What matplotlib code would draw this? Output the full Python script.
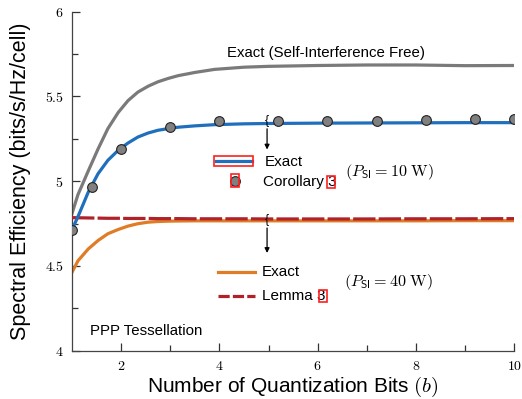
import matplotlib
matplotlib.use("Agg")
import matplotlib.pyplot as plt
from matplotlib.patches import Rectangle

plt.rcParams['font.family'] = ['Liberation Sans', 'DejaVu Sans']
plt.rcParams['mathtext.fontset'] = 'cm'

# curves
b_grid = [1, 1.12, 1.33, 1.53, 1.73, 1.94, 2.14, 2.34, 2.55, 2.75, 2.96,
          3.16, 3.5, 3.9, 4.5, 5, 6, 7, 8, 9, 10]
se_free = [4.81, 4.92, 5.06, 5.19, 5.31, 5.405, 5.475, 5.525, 5.56, 5.586, 5.606,
           5.622, 5.641, 5.659, 5.672, 5.677, 5.682, 5.685, 5.685, 5.681, 5.682]
se_10w = [4.715, 4.79, 4.935, 5.044, 5.123, 5.182, 5.225, 5.26, 5.284, 5.30, 5.31,
          5.318, 5.326, 5.333, 5.338, 5.34, 5.342, 5.343, 5.344, 5.345, 5.345]
se_40w = [4.463, 4.53, 4.60, 4.65, 4.69, 4.715, 4.735, 4.749, 4.758, 4.762, 4.764,
          4.765, 4.766, 4.766, 4.766, 4.766, 4.766, 4.766, 4.766, 4.767, 4.767]
se_lemma = [4.785, 4.784, 4.783, 4.782, 4.781, 4.781, 4.780, 4.780, 4.780, 4.779, 4.779,
            4.779, 4.778, 4.778, 4.778, 4.777, 4.777, 4.777, 4.778, 4.778, 4.779]

# Corollary 3 markers
mk_b = [1, 1.4, 2, 3, 4, 5.2, 6.2, 7.2, 8.2, 9.2, 10]
mk_se = [4.713, 4.965, 5.192, 5.318, 5.353, 5.356, 5.356, 5.357, 5.36, 5.365, 5.367]

xticks = [2, 4, 6, 8, 10]
yticks = [4, 4.5, 5, 5.5, 6]

c_gray = '#7a7a7a'
c_blue = '#1f6fbd'
c_orange = '#e07c25'
c_red = '#b0222a'

fig = plt.figure(figsize=(5.22, 3.99), dpi=100)
ax = fig.add_axes([0.138, 0.121, 0.847, 0.850])

ax.plot(b_grid, se_free, color=c_gray, lw=2.3, zorder=2, solid_joinstyle='round')
ax.plot(b_grid, se_40w, color=c_orange, lw=2.3, zorder=2, solid_joinstyle='round')
ax.plot(b_grid, se_lemma, color=c_red, lw=2.3, dashes=(7, 1), zorder=3)
ax.plot(b_grid, se_10w, color=c_blue, lw=2.3, zorder=3, solid_joinstyle='round')
ax.plot(mk_b, mk_se, 'o', color='#808080', mec='#222222', mew=0.8, ms=7, zorder=4)

ax.set_xlim(1, 10)
ax.set_ylim(4, 6)
ax.set_xticks(xticks)
ax.set_xticklabels(['$%g$' % t for t in xticks])
ax.set_xticks([3, 5, 7, 9], minor=True)
ax.set_yticks(yticks)
ax.set_yticklabels(['$%g$' % t for t in yticks])
ax.set_yticks([4.25, 4.75, 5.25, 5.75], minor=True)
ax.tick_params(which='both', direction='in', color='#333333', labelsize=10, width=0.9)
ax.tick_params(which='major', length=6)
ax.tick_params(which='minor', length=4)
ax.tick_params(axis='y', pad=6)
ax.tick_params(axis='x', pad=6)
for s in ['top', 'right']:
    ax.spines[s].set_visible(False)
for s in ['left', 'bottom']:
    ax.spines[s].set_color('#444444')
    ax.spines[s].set_linewidth(0.9)

ax.set_xlabel('Number of Quantization Bits $(b)$', fontsize=15, labelpad=1)
ax.set_ylabel('Spectral Efficiency (bits/s/Hz/cell)', fontsize=15.5, labelpad=10)

ax.text(6.16, 5.755, 'Exact (Self-Interference Free)', fontsize=10.8, ha='center', va='center')
ax.text(1.37, 4.118, 'PPP Tessellation', fontsize=10.8, ha='left', va='center')

# braces with arrows pointing to the legends
for ytop, ybot in [(5.355, 5.17), (4.77, 4.56)]:
    ax.text(4.96, ytop, '{', fontsize=9, ha='center', va='center')
    ax.annotate('', xy=(4.97, ybot), xytext=(4.97, ytop - 0.03),
                arrowprops=dict(arrowstyle='-|>', color='black', lw=0.9, mutation_scale=7))

# legend 1 (10 W)
ax.plot([3.93, 4.67], [5.117, 5.117], color=c_blue, lw=2.3)
ax.plot([4.31], [4.999], 'o', color='#808080', mec='#222222', mew=0.8, ms=7)
ax.text(4.93, 5.111, 'Exact', fontsize=11, va='center')
ax.text(4.89, 4.993, 'Corollary 3', fontsize=11, va='center')
ax.text(6.56, 5.054, r'$(P_{\mathsf{SI}} = 10\ \mathrm{W})$', fontsize=11.6, va='center')

# legend 2 (40 W)
ax.plot([3.97, 4.73], [4.463, 4.463], color=c_orange, lw=2.3)
ax.plot([3.97, 4.73], [4.323, 4.323], color=c_red, lw=2.3, dashes=(3.5, 1))
ax.text(4.86, 4.463, 'Exact', fontsize=11, va='center')
ax.text(4.86, 4.323, 'Lemma 3', fontsize=11, va='center')
ax.text(6.54, 4.404, r'$(P_{\mathsf{SI}} = 40\ \mathrm{W})$', fontsize=11.6, va='center')

# red link boxes
for x0, x1, y0, y1 in [(3.89, 4.69, 5.087, 5.147), (4.24, 4.39, 4.963, 5.04),
                       (6.19, 6.36, 4.962, 5.028), (6.02, 6.18, 4.29, 4.358)]:
    ax.add_patch(Rectangle((x0, y0), x1 - x0, y1 - y0, fill=False, ec='#ff1f1f', lw=1.2, zorder=5))

fig.savefig('out.png', dpi=100)
